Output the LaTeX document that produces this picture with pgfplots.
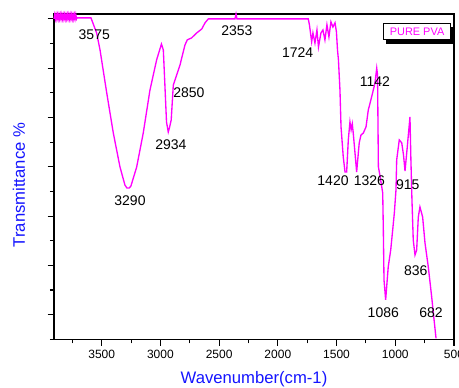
\documentclass[border=0pt]{standalone}
\usepackage{fontspec}
\setmainfont{Liberation Sans}
\usepackage{pgfplots}
\pgfplotsset{compat=1.18}
\usetikzlibrary{shadows}
\definecolor{mag}{RGB}{255,0,255}
\definecolor{lblue}{RGB}{20,20,255}
\begin{document}
\begin{tikzpicture}
\useasboundingbox (-40.5pt,-35.775pt) rectangle (303.75pt,254.475pt);
\begin{axis}[
  scale only axis, width=300pt, height=244pt,
  x dir=reverse, xmin=500, xmax=3906, ymin=0, ymax=13.2,
  axis line style={line width=1pt},
  xtick={500,1000,...,3500}, minor xtick={750,1250,...,3750},
  ytick={1,3,...,13}, minor ytick={0,2,...,12},
  yticklabels={},
  tick align=outside, xtick pos=bottom, ytick pos=left,
  major tick length=4.7pt, minor tick length=3pt,
  every tick/.style={black, line width=0.8pt},
  /pgf/number format/assume math mode=true,
  /pgf/number format/1000 sep={},
  xticklabel style={font=\fontsize{9}{10}\selectfont},
  xlabel={Wavenumber(cm-1)}, ylabel={Transmittance \%},
  label style={font=\fontsize{12.5}{14}\selectfont, text=lblue},
  xlabel style={at={(axis description cs:0.5,-0.122)}, anchor=center},
  ylabel style={at={(axis description cs:-0.0875,0.474)}, anchor=center},
  clip=false,
]
\addplot[mag, line width=1pt] coordinates {
(3906,13.0) (3900,13.17) (3894,13.0) (3888,13.17) (3882,13.0) (3876,13.17)
(3870,13.0) (3864,13.17) (3858,13.0) (3852,13.17) (3846,13.0) (3840,13.17)
(3834,13.0) (3828,13.17) (3822,13.0) (3816,13.17) (3810,13.0) (3804,13.17)
(3798,13.0) (3792,13.17) (3786,13.0) (3780,13.17) (3774,13.0) (3768,13.17)
(3762,13.0) (3756,13.17) (3750,13.0) (3744,13.17) (3738,13.0) (3732,13.17)
(3726,13.0) (3720,13.17) (3714,13.0) (3710,13.04)
(3591,13.04) (3543,12.43) (3514,11.74) (3457,10.0) (3401,8.37) (3344,6.99)
(3302,6.26) (3285,6.14) (3265,6.14) (3251,6.22) (3202,6.99) (3146,8.37)
(3089,10.11) (3032,11.34) (2991,11.98) (2975,11.74) (2961,10.24) (2948,8.82)
(2933,8.41) (2923,8.58) (2908,8.90) (2890,10.32) (2876,10.52) (2833,11.13)
(2791,11.94) (2771,12.15) (2734,12.23) (2691,12.43) (2648,12.59) (2620,12.84)
(2592,13.0) (2365,13.0) (2356,13.2) (2348,13.0) (1741,13.0)
(1731,12.76) (1712,12.07) (1701,12.43) (1684,12.02) (1667,12.55) (1654,11.86)
(1633,12.43) (1616,12.55) (1599,12.15) (1582,12.76) (1565,12.27) (1548,12.88)
(1531,12.67) (1513,12.84) (1501,12.47) (1492,11.74) (1484,11.34) (1471,10.11)
(1462,8.62) (1443,7.40) (1428,6.79) (1414,6.79) (1400,8.09) (1386,8.82)
(1376,8.50) (1366,8.74) (1358,8.37) (1343,7.56) (1329,6.79) (1307,7.97)
(1292,8.29) (1272,8.37) (1249,8.62) (1230,9.30) (1201,9.84) (1173,10.40)
(1158,11.0) (1151,10.72) (1144,7.0) (1130,6.63) (1107,5.94) (1102,4.52)
(1096,2.41) (1082,1.60) (1060,2.94) (1039,3.62) (1022,4.44) (1008,5.13)
(994,6.06) (988,7.28) (966,8.09) (945,7.97) (930,7.48) (917,6.83)
(898,7.80) (875,9.02) (867,7.28) (858,5.65) (847,4.03) (832,3.42)
(818,3.62) (804,4.96) (790,5.37) (767,4.96) (747,3.91) (719,2.94)
(690,1.72) (676,1.07) (653,0.04)
};
\begin{scope}[every node/.style={font=\fontsize{10.5}{12}\selectfont, text=black, inner sep=0pt}]
\node at (axis cs:3563,12.35) {3575};
\node at (axis cs:3259,5.61) {3290};
\node at (axis cs:2910,7.89) {2934};
\node at (axis cs:2757,10.01) {2850};
\node at (axis cs:2348,12.51) {2353};
\node at (axis cs:1831,11.63) {1724};
\node at (axis cs:1173,10.45) {1142};
\node at (axis cs:1530,6.42) {1420};
\node at (axis cs:1221,6.42) {1326};
\node at (axis cs:894,6.29) {915};
\node at (axis cs:826,2.78) {836};
\node at (axis cs:1102,1.10) {1086};
\node at (axis cs:696,1.10) {682};
\end{scope}
\node[draw=black, line width=0.6pt, fill=white, text=mag,
  font=\fontsize{8.2}{9}\selectfont, anchor=north east,
  minimum width=50pt, minimum height=12.5pt, inner sep=0pt,
  drop shadow={shadow xshift=1.8pt, shadow yshift=-3pt, fill=black, opacity=1}]
  at (axis description cs:0.992,0.973) {PURE PVA};
\end{axis}
\end{tikzpicture}
\end{document}
